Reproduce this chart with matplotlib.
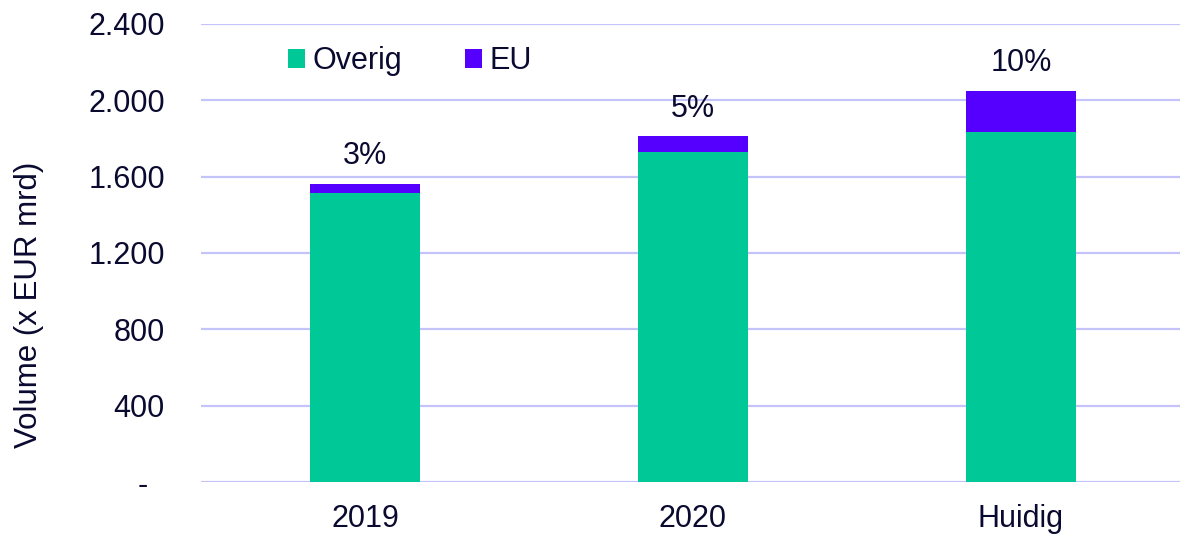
import matplotlib
matplotlib.use("Agg")
import matplotlib.pyplot as plt
from matplotlib.patches import Patch

categories = ["2019", "2020", "Huidig"]
overig = [1514, 1729, 1834]
eu = [49, 84, 215]
pct_labels = ["3%", "5%", "10%"]
yticks = [0, 400, 800, 1200, 1600, 2000, 2400]
ytick_labels = ["-  ", "400", "800", "1.200", "1.600", "2.000", "2.400"]

GREEN = "#00C896"
PURPLE = "#5500FF"
GRID = "#C4C4FA"
TEXT = "#0A0A30"

plt.rcParams["font.family"] = ["Liberation Sans", "DejaVu Sans"]

fig = plt.figure(figsize=(11.8, 5.34), dpi=100)
ax = fig.add_axes([201 / 1180, 52 / 534, 984 / 1180, 458 / 534])

x = list(range(len(categories)))
w = 0.335
ax.bar(x, overig, width=w, color=GREEN, zorder=3, label="Overig")
ax.bar(x, eu, width=w, bottom=overig, color=PURPLE, zorder=3, label="EU")

for xi, o, e, lab in zip(x, overig, eu, pct_labels):
    ax.annotate(lab, (xi, o + e), xytext=(0, 9), textcoords="offset points",
                ha="center", va="bottom", fontsize=22, color=TEXT)

ax.set_xlim(-0.5, 2.5)
ax.set_ylim(0, 2400)
ax.set_yticks(yticks)
ax.set_yticklabels(ytick_labels)
ax.set_xticks(x)
ax.set_xticklabels(categories)
ax.tick_params(axis="both", length=0, labelsize=22, colors=TEXT)
ax.tick_params(axis="y", pad=26)
ax.tick_params(axis="x", pad=16)
ax.yaxis.grid(True, color=GRID, linewidth=1.6, zorder=0)
ax.set_axisbelow(True)
for s in ax.spines.values():
    s.set_visible(False)

fig.text(29 / 1180, 1 - 305 / 534, "Volume (x EUR mrd)", rotation=90,
         ha="center", va="center", fontsize=22.5, color=TEXT)

handles = [Patch(facecolor=GREEN, edgecolor="none", label="Overig"),
           Patch(facecolor=PURPLE, edgecolor="none", label="EU")]
ax.legend(handles=handles, ncol=2, frameon=False, fontsize=22,
          loc="upper left", bbox_to_anchor=(0.060, 1.012),
          handlelength=0.56, handleheight=0.56, handletextpad=0.25,
          columnspacing=2.05, labelcolor=TEXT)

fig.savefig("out.png", dpi=100)
